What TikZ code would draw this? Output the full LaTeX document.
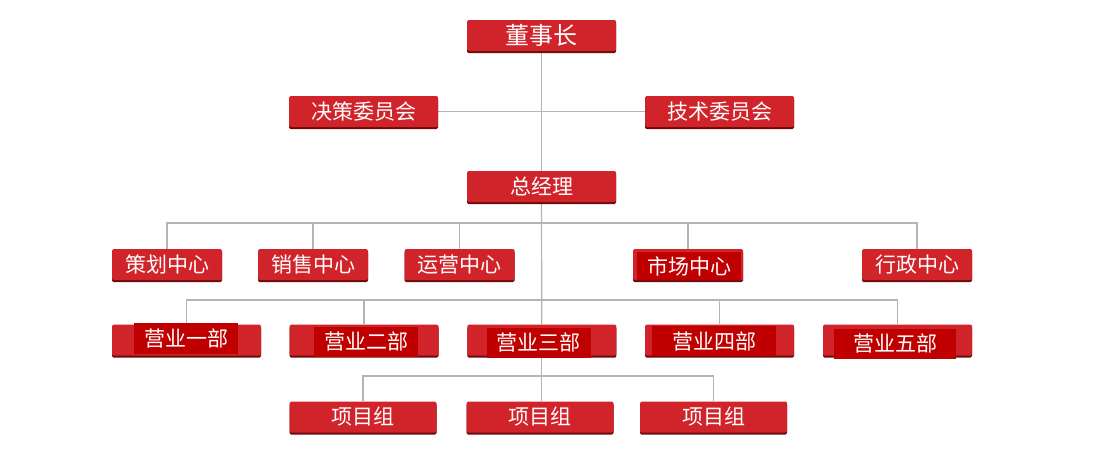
\documentclass[tikz,border=0pt]{standalone}
\usepackage{fontspec}
\newfontfamily\cjk{Noto Sans CJK SC}
\usetikzlibrary{shadows,backgrounds}
\pgfdeclarelayer{paper}
\pgfsetlayers{paper,background,main}
\definecolor{boxred}{HTML}{D0242A}
\definecolor{shadered}{HTML}{6E0A0A}
\definecolor{labred}{HTML}{C00000}
\definecolor{linegray}{HTML}{B4B4B4}
\tikzset{
  rbox/.style={rectangle, fill=boxred, rounded corners=1.5pt, inner sep=0pt,
    minimum height=31pt, minimum width=#1,
    general shadow={fill=shadered, shadow yshift=-2.2pt, shadow xshift=0pt},
    text=white, font=\cjk\fontsize{21pt}{24pt}\selectfont},
  rbox/.default=149pt,
  lab/.style={rectangle, fill=labred, inner sep=0pt, minimum height=30pt,
    minimum width=#1, text=white, font=\cjk\fontsize{21pt}{24pt}\selectfont},
  lab/.default=104pt,
  conn/.style={draw=linegray, line width=1.2pt}
}
\begin{document}
\begin{tikzpicture}[x=1pt,y=-1pt]
\begin{pgfonlayer}{paper}
\fill[white] (0,0) rectangle (1095,464);
\end{pgfonlayer}
\useasboundingbox (0,0) rectangle (1095,464);
% level 1
\node[rbox, font=\cjk\fontsize{24pt}{26pt}\selectfont] (dsz) at (541.5,35.5) {董事长};
\node[rbox] (jc) at (363.5,111.5) {决策委员会};
\node[rbox] (js) at (719.5,111.5) {技术委员会};
\node[rbox] (zjl) at (541.5,186.5) {总经理};
% centres
\node[rbox=110pt] (ch) at (167,264.5) {策划中心};
\node[rbox=110pt] (xs) at (313,264.5) {销售中心};
\node[rbox=110pt] (yy) at (459.5,264.5) {运营中心};
\node[rbox=110pt] (sc) at (688,264.5) {};
\node[lab, minimum height=28pt] (scl) at (689,266) {市场中心};
\node[rbox=110pt] (xz) at (917,264.5) {行政中心};
% departments
\node[rbox] (b1) at (186.5,340) {};
\node[rbox] (b2) at (364,340) {};
\node[rbox] (b3) at (541.8,340) {};
\node[rbox] (b4) at (719.5,340) {};
\node[rbox] (b5) at (897.5,340) {};
\node[lab, minimum height=31pt] (l1) at (186,338.5) {营业一部};
\node[lab] (l2) at (366,341.7) {营业二部};
\node[lab] (l3) at (538.7,343) {营业三部};
\node[lab=124pt] (l4) at (714,341.3) {营业四部};
\node[lab=122pt] (l5) at (895,344) {营业五部};
% project groups
\node[rbox=147pt] (x1) at (363,417) {项目组};
\node[rbox=147pt] (x2) at (540,417) {项目组};
\node[rbox=147pt] (x3) at (713.5,417) {项目组};
% buses
\coordinate (bus2) at (541.5,223);
\coordinate (bus3) at (541.5,300);
\coordinate (bus4) at (541.5,376);
\begin{pgfonlayer}{background}
\draw[conn] (dsz.south) -- (zjl.north);
\draw[conn] (jc.east) -- (js.west);
\draw[conn] (zjl.south) -- (b3.north);
\draw[conn] (b3.south) -- (x2.north -| b3.south);
\draw[conn] (ch.north) -- (ch.north |- bus2) -- (xz.north |- bus2) -- (xz.north);
\draw[conn] (xs.north) -- (xs.north |- bus2);
\draw[conn] (yy.north) -- (yy.north |- bus2);
\draw[conn] (sc.north) -- (sc.north |- bus2);
\draw[conn] (b1.north) -- (b1.north |- bus3) -- (b5.north |- bus3) -- (b5.north);
\draw[conn] (b2.north) -- (b2.north |- bus3);
\draw[conn] (b4.north) -- (b4.north |- bus3);
\draw[conn] (x1.north) -- (x1.north |- bus4) -- (x3.north |- bus4) -- (x3.north);
\end{pgfonlayer}
\end{tikzpicture}
\end{document}
